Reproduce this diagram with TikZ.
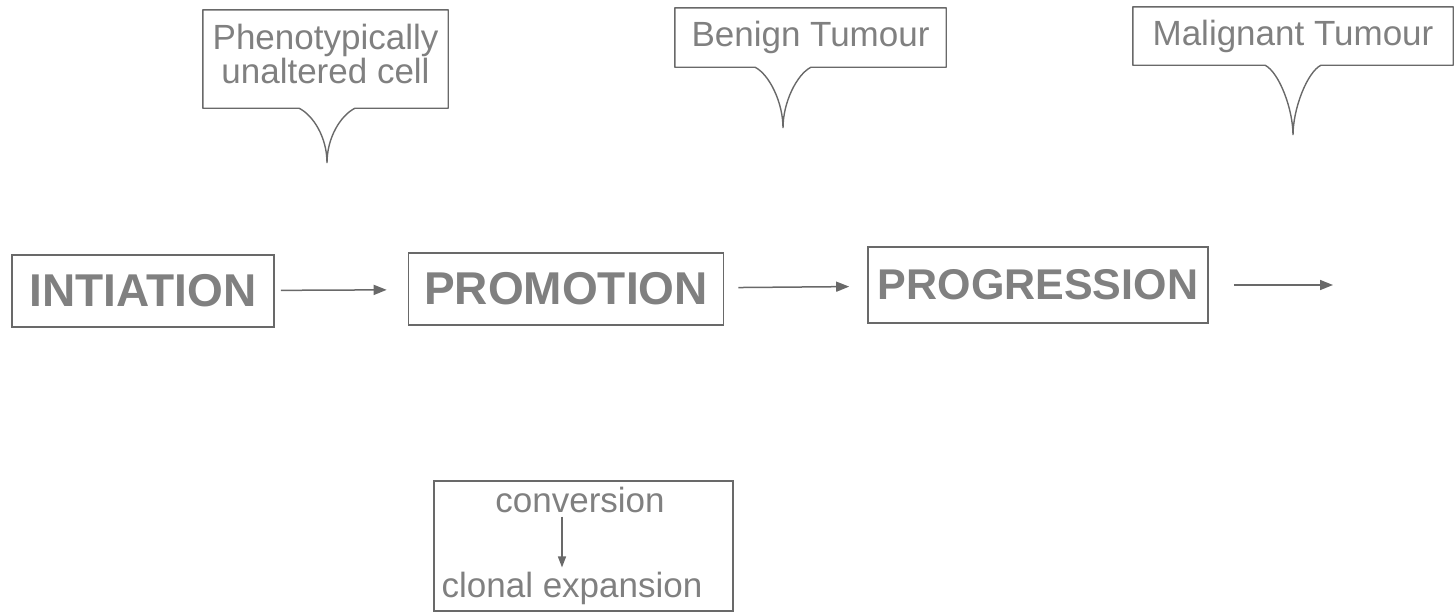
\documentclass[tikz,border=0pt]{standalone}
\usepackage{fontspec}
\setmainfont{Liberation Sans}
\usetikzlibrary{arrows.meta,calc}

\definecolor{ink}{RGB}{105,105,105}
\definecolor{lettering}{RGB}{128,128,128}

\begin{document}
\begin{tikzpicture}[x=1pt,y=-1pt]
\useasboundingbox (0,0) rectangle (1454,613);

% the three stages
\begin{scope}[every node/.style={draw=ink,line width=1.6pt,text=lettering,
              font=\fontsize{46}{50}\selectfont\bfseries,
              minimum height=72pt,inner sep=0pt}]
    \node[minimum width=262pt] (init) at (143,291) {INTIATION};
    \node[minimum width=315pt] (prom) at (566,289) {PROMOTION};
    \node[minimum width=340pt,minimum height=76pt,
          font=\fontsize{43}{50}\selectfont\bfseries] (prog) at (1038,285) {PROGRESSION};
\end{scope}
\coordinate (next) at (1333,285);

% speech bubbles above the stages
\begin{scope}[every node/.style={text=lettering,font=\fontsize{35}{34}\selectfont,
              align=center,inner sep=0pt}]
    \node[minimum width=245pt,minimum height=98pt] (pheno) at (325.5,59) {Phenotypically\\unaltered cell\strut};
    \node[minimum width=271pt,minimum height=59pt] (benign) at (810.5,37.5) {Benign Tumour};
    \node[minimum width=320pt,minimum height=58pt] (malig) at (1293,36) {Malignant Tumour};
\end{scope}
\coordinate (pheno-tip) at (327,163);
\coordinate (benign-tip) at (783,128);
\coordinate (malig-tip) at (1293,135);

\foreach \n in {pheno,benign,malig}
    \draw[ink,line width=1.4pt,line join=round]
        (\n-tip) .. controls ($(\n-tip)+(0,-26)$) and ($(\n-tip |- \n.south)+(-14,7)$)
        .. ($(\n-tip |- \n.south)+(-28,0)$) -- (\n.south west) -- (\n.north west)
        -- (\n.north east) -- (\n.south east) -- ($(\n-tip |- \n.south)+(28,0)$)
        .. controls ($(\n-tip |- \n.south)+(14,7)$) and ($(\n-tip)+(0,-26)$) .. (\n-tip);

% what promotion is made of
\node[draw=ink,line width=1.4pt,minimum width=299pt,minimum height=130pt] (steps) at (583.5,546) {};
\begin{scope}[every node/.style={text=lettering,font=\fontsize{35}{34}\selectfont,
              anchor=base,inner sep=4pt}]
    \node (conv) at (580,512) {conversion};
    \node (clon) at (572,597) {clonal expansion};
\end{scope}
\coordinate (stem) at (562,0);

\begin{scope}[>={Triangle[length=13pt,width=10pt]},
              every edge/.style={draw=ink,line width=1.5pt}]
    \path [->] (init) edge[shorten <=6pt,shorten >=21pt] (prom);
    \path [->] (prom) edge[shorten <=14pt,shorten >=18pt] (prog);
    \path [->] (prog) edge[shorten <=25pt] (next);
    \path [->,>={Triangle[length=11pt,width=8pt]}]
        (conv.south -| stem) edge (clon.north -| stem);
\end{scope}
\end{tikzpicture}
\end{document}
